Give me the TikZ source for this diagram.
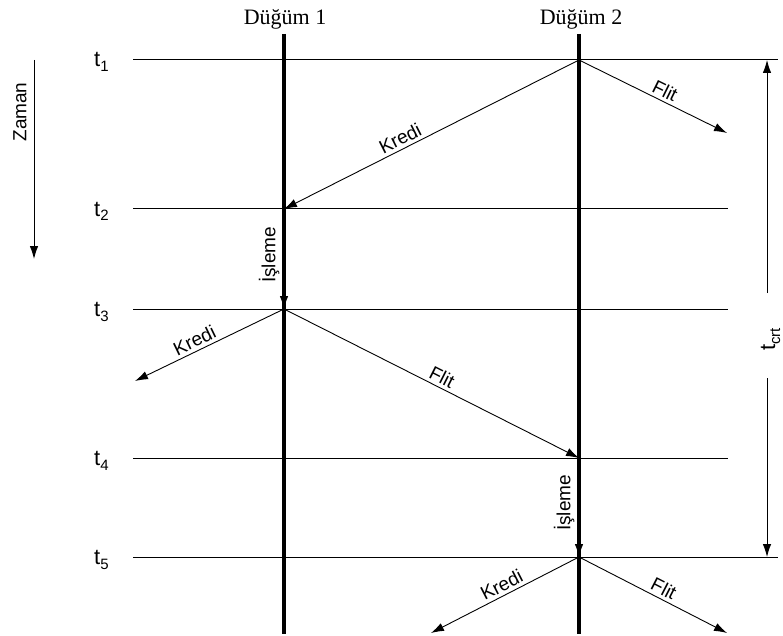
\documentclass[tikz,border=0pt]{standalone}
\usepackage{fontspec}
\setmainfont{Liberation Serif}
\setsansfont{Liberation Sans}
\usetikzlibrary{arrows.meta,calc}
\newcommand{\tsub}[2]{#1\raisebox{-5pt}{\fontsize{15}{15}\selectfont #2}}
\begin{document}
\begin{tikzpicture}[x=1pt,y=-1pt,
  thinline/.style={line width=1pt},
  nodeline/.style={line width=3.8pt},
  msg/.style={line width=0.9pt,-{Latex[length=13pt,width=8.5pt]}},
  lbl/.style={font=\sffamily\fontsize{19}{21}\selectfont,inner sep=3.5pt},
  tlbl/.style={font=\sffamily\fontsize{22}{24}\selectfont,inner sep=0pt},
  hdr/.style={font=\rmfamily\fontsize{22}{24}\selectfont,inner sep=0pt}]
\useasboundingbox (0,0) rectangle (783,636);
% coordinates
\coordinate (n1top) at (284,34);
\coordinate (n1bot) at (284,634);
\coordinate (n2top) at (579,34);
\coordinate (n2bot) at (579,634);
\coordinate (a1) at (579,60);
\coordinate (a2) at (284,209);
\coordinate (a3) at (284,309);
\coordinate (a4) at (579,458);
\coordinate (a5) at (579,557);
\coordinate (l1s) at (133,60);  \coordinate (l1e) at (778,60);
\coordinate (l2s) at (133,209); \coordinate (l2e) at (728,209);
\coordinate (l3s) at (133,309); \coordinate (l3e) at (728,309);
\coordinate (l4s) at (133,458); \coordinate (l4e) at (728,458);
\coordinate (l5s) at (133,557); \coordinate (l5e) at (778,557);
\coordinate (f1) at (727,133);
\coordinate (k3) at (135,381);
\coordinate (k5) at (431,633);
\coordinate (f5) at (727,633);
\coordinate (z1) at (34,60);
\coordinate (z2) at (34,259);
\coordinate (c1) at (767,293);
\coordinate (c2) at (767,60);
\coordinate (c3) at (767,378);
\coordinate (c4) at (767,557);
% horizontal time lines
\draw[thinline] (l1s) -- (l1e);
\draw[thinline] (l2s) -- (l2e);
\draw[thinline] (l3s) -- (l3e);
\draw[thinline] (l4s) -- (l4e);
\draw[thinline] (l5s) -- (l5e);
% node lines
\draw[nodeline] (n1top) -- (n1bot);
\draw[nodeline] (n2top) -- (n2bot);
% headers
\node[hdr,anchor=base] (h1) at (285,25) {Düğüm 1};
\node[hdr,anchor=base] (h2) at (581,25) {Düğüm 2};
% time labels
\node[tlbl,anchor=base west] (t1) at (94,67) {\tsub{t}{1}};
\node[tlbl,anchor=base west] (t2) at (94,216) {\tsub{t}{2}};
\node[tlbl,anchor=base west] (t3) at (94,316) {\tsub{t}{3}};
\node[tlbl,anchor=base west] (t4) at (94,465) {\tsub{t}{4}};
\node[tlbl,anchor=base west] (t5) at (94,564) {\tsub{t}{5}};
% Zaman
\draw[msg] (z1) -- (z2);
\node[lbl,rotate=90,inner sep=0pt] (zl) at (20,112) {Zaman};
% t_crt
\draw[msg] (c1) -- (c2);
\draw[msg] (c3) -- (c4);
\node[tlbl,rotate=90,anchor=base west] (tc) at (775,351) {\tsub{t}{crt}};
% messages
\draw[msg] (a1) -- (f1);
\draw[msg] (a1) -- (a2);
\draw[msg] (a2) -- (a3);
\draw[msg] (a3) -- (k3);
\draw[msg] (a3) -- (a4);
\draw[msg] (a4) -- (a5);
\draw[msg] (a5) -- (k5);
\draw[msg] (a5) -- (f5);
% labels
\node[lbl,rotate=26.8,anchor=south] (lk1) at ($(a1)!0.59!(a2)$) {Kredi};
\node[lbl,rotate=-26.3,anchor=south] (lf1) at ($(a1)!0.55!(f1)$) {Flit};
\node[lbl,rotate=90,anchor=south,inner sep=1.5pt] (li1) at (281,255) {İşleme};
\node[lbl,rotate=25.8,anchor=south] (lk3) at ($(a3)!0.57!(k3)$) {Kredi};
\node[lbl,rotate=-26.8,anchor=south] (lf3) at ($(a3)!0.52!(a4)$) {Flit};
\node[lbl,rotate=90,anchor=south,inner sep=1.5pt] (li2) at (576,503) {İşleme};
\node[lbl,rotate=27.2,anchor=south] (lk5) at ($(a5)!0.49!(k5)$) {Kredi};
\node[lbl,rotate=-27.2,anchor=south] (lf5) at ($(a5)!0.54!(f5)$) {Flit};
\end{tikzpicture}
\end{document}
